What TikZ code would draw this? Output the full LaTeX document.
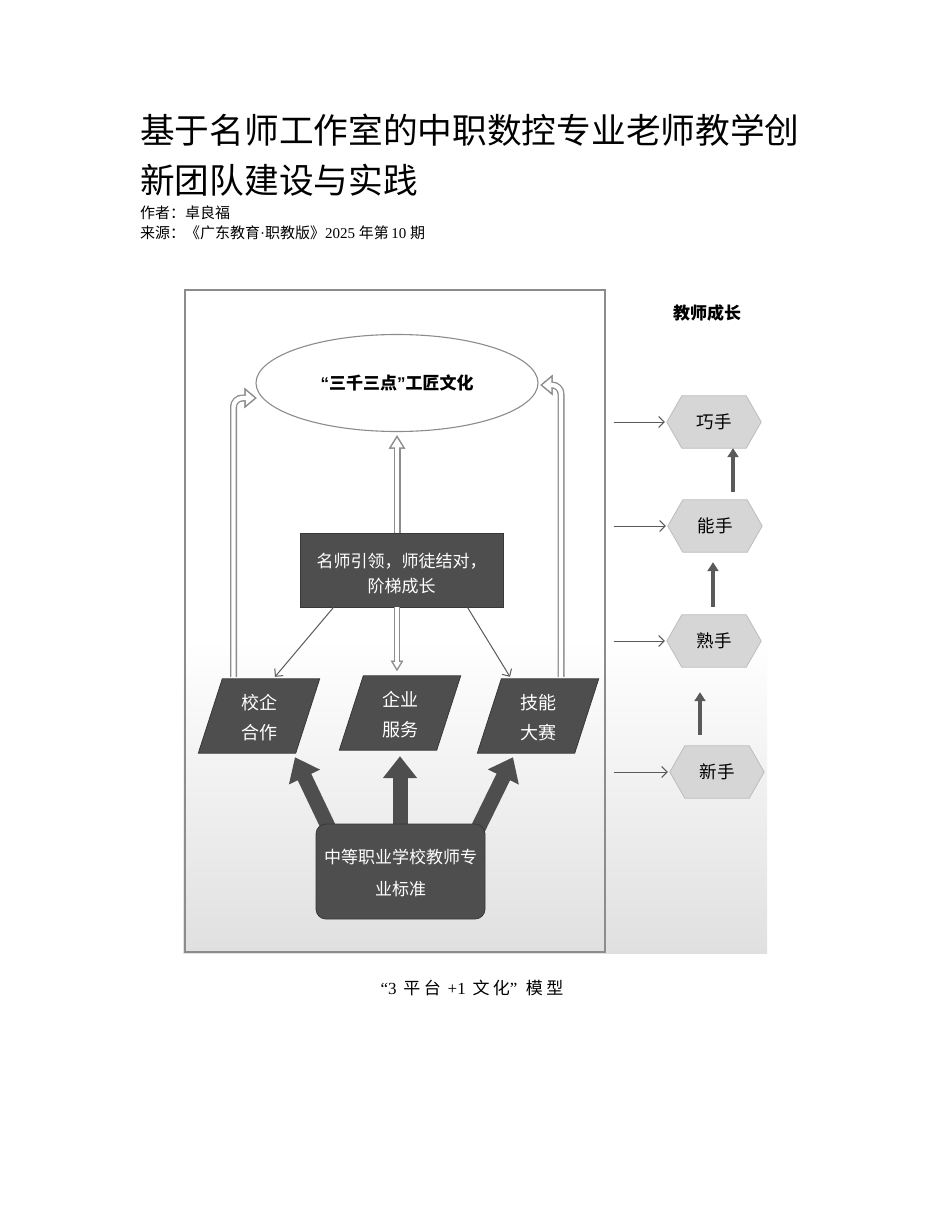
\documentclass[tikz,border=0pt]{standalone}
\usepackage{fontspec}
\setmainfont{Liberation Serif}
\newfontfamily\cjk{Noto Sans CJK SC}
\newfontfamily\latsans{Liberation Sans}
\usetikzlibrary{arrows.meta,backgrounds,calc,shapes.geometric}
\pgfdeclarelayer{mid}
\pgfsetlayers{background,mid,main}
\definecolor{dk}{HTML}{4E4E4E}
\definecolor{dkline}{HTML}{383838}
\definecolor{frm}{HTML}{8C8C8C}
\definecolor{hexf}{HTML}{D6D6D6}
\definecolor{hexd}{HTML}{BDBDBD}
\definecolor{arr}{HTML}{5A5A5A}
\definecolor{bgb}{HTML}{E0E0E0}
\newcommand\lowertext[2]{\raisebox{-#1}[\height][\depth]{\begin{tabular}{@{}c@{}}#2\end{tabular}}}
\begin{document}
\begin{tikzpicture}[x=1pt,y=-1pt,
  darkbox/.style={fill=dk, draw=dkline, line width=0.8pt, text=white, align=center, inner sep=0pt},
  ptext/.style={minimum width=97pt, minimum height=74pt, inner sep=0pt, text=white, align=center, font=\cjk\fontsize{18}{30}\selectfont},
  hexn/.style={minimum width=64pt, minimum height=52pt, inner sep=0pt, font=\cjk\fontsize{17.5}{20}\selectfont},
  hol/.style={draw=frm, fill=frm},
  thinarr/.style={draw=arr, line width=1pt, -{Straight Barb[length=5.5pt,width=11pt]}},
  thickarr/.style={draw=dk, line width=15pt, -{Triangle[length=22pt,width=33pt]}},
  uparr/.style={draw=arr, line width=4.5pt, -{Triangle[length=9pt,width=11pt]}}]
\useasboundingbox (0,0) rectangle (950,1230);
\begin{pgfonlayer}{background}
  \fill[white] (0,0) rectangle (950,1230);
  \shade[top color=white, bottom color=bgb] (183,640) rectangle (767,953);
\end{pgfonlayer}

% heading texts
\node[anchor=base west, inner sep=0pt, font=\cjk\fontsize{34.7}{40}\selectfont] (t1) at (140,144) {基于名师工作室的中职数控专业老师教学创};
\node[anchor=base west, inner sep=0pt, font=\cjk\fontsize{34.7}{40}\selectfont] (t2) at (140,194) {新团队建设与实践};
\node[anchor=base west, inner sep=0pt, font=\cjk\fontsize{15}{18}\selectfont] (au) at (140,218.5) {作者：卓良福};
\node[anchor=base west, inner sep=0pt, font=\fontsize{15}{18}\selectfont] (src) at (140,238.5) {{\cjk 来源：《广东教育}·{\cjk 职教版》}2025 {\cjk 年第}\,10 {\cjk 期}};

% frame
\node[draw=frm, line width=1.3pt, minimum width=420pt, minimum height=662pt, inner sep=0pt] (frame) at (395,621) {};

% nodes
\node[ellipse, draw=frm, fill=white, line width=1.1pt, minimum width=282pt, minimum height=97pt, inner sep=0pt, font=\cjk\bfseries\fontsize{17}{20}\selectfont] (ell) at (397,383) {{\latsans\bfseries “}三千三点{\latsans\bfseries ”}工匠文化};
\node[darkbox, minimum width=203pt, minimum height=74pt, font=\cjk\fontsize{17}{25}\selectfont] (mbox) at (401.5,570) {\lowertext{5pt}{名师引领，师徒结对，\\阶梯成长}};
\node[ptext] (p1) at (259,716) {\lowertext{2.5pt}{校企\\合作}};
\node[ptext] (p2) at (400,713) {\lowertext{2pt}{企业\\服务}};
\node[ptext] (p3) at (538,716) {\lowertext{2.5pt}{技能\\大赛}};
\node[darkbox, rounded corners=10pt, minimum width=169pt, minimum height=95pt, font=\cjk\fontsize{17}{32}\selectfont] (sbox) at (400.5,871.5) {\lowertext{1.5pt}{中等职业学校教师专\\业标准}};

\node[font=\cjk\bfseries\fontsize{17}{20}\selectfont] (head) at (707,313) {教师成长};
\node[hexn] (h1) at (714,422) {巧手};
\node[hexn] (h2) at (715,526) {能手};
\node[hexn] (h3) at (714,641) {熟手};
\node[hexn] (h4) at (717,772) {新手};

\node[font=\fontsize{17}{20}\selectfont] (cap) at (472,988) {“3\hspace{.4em}{\cjk 平}\hspace{.2em}{\cjk 台}\hspace{.4em}+1\hspace{.4em}{\cjk 文}\hspace{.2em}{\cjk 化}”\hspace{.5em}{\cjk 模}\hspace{.2em}{\cjk 型}};

% shapes behind texts
\begin{pgfonlayer}{background}
  \foreach \p in {p1,p2,p3}
    \filldraw[fill=dk, draw=dkline, line width=0.8pt] ([xshift=12pt]\p.north west) -- ([xshift=12pt]\p.north east) -- ([xshift=-12pt]\p.south east) -- ([xshift=-12pt]\p.south west) -- cycle;
  \foreach \h in {h1,h2,h3,h4}
    \filldraw[fill=hexf, draw=hexd, line width=0.8pt] ([xshift=-15pt]\h.west) -- (\h.north west) -- (\h.north east) -- ([xshift=15pt]\h.east) -- (\h.south east) -- (\h.south west) -- cycle;
\end{pgfonlayer}

% thick arrows from the standard box
\begin{pgfonlayer}{mid}
  \draw[thickarr] ($(sbox.north)+(-70,8)$) -- ($(p1.south)+(36,4)$);
  \draw[thickarr] ($(sbox.north)+(-0.5,8)$) -- ($(p2.south)+(0,6)$);
  \draw[thickarr] ($(sbox.north)+(76,8)$) -- ($(p3.south)+(-25,4)$);
\end{pgfonlayer}

% thin arrows from mbox
\draw[thinarr] ($(mbox.south)+(-68,0)$) -- ($(p1.north)+(16,-2)$);
\draw[thinarr] ($(mbox.south)+(66,0)$) -- ($(p3.north)+(-28,-2)$);

% hollow arrows
\coordinate (la) at ($(p1.north)+(-25.5,-2)$);
\coordinate (laT) at ($(ell.west)+(1,15)$);
\coordinate (ra) at ($(p3.north)+(23,-2)$);
\coordinate (raT) at ($(ell.east)+(2,2)$);
\coordinate (cu0) at ($(mbox.north)+(-4.5,0)$);
\coordinate (cuT) at ($(ell.south)+(0,3.5)$);
\coordinate (cd0) at ($(mbox.south)+(-4.5,0)$);
\coordinate (cdT) at ($(cd0 |- p2.north)+(0,-5)$);
% left
\draw[draw=frm, line width=7pt, rounded corners=9pt] (la) |- ($(laT)+(-11.5,0)$);
\fill[hol] (laT) -- ++(-12,-10) -- ++(0,20) -- cycle;
\draw[white, line width=4.4pt, rounded corners=9pt] (la) |- ($(laT)+(-10,0)$);
\fill[white] ($(laT)+(-2,0)$) -- ++(-8.7,-7.2) -- ++(0,14.4) -- cycle;
% right
\draw[draw=frm, line width=7pt, rounded corners=9pt] (ra) |- ($(raT)+(11.5,0)$);
\fill[hol] (raT) -- ++(12,-10) -- ++(0,20) -- cycle;
\draw[white, line width=4.4pt, rounded corners=9pt] (ra) |- ($(raT)+(10,0)$);
\fill[white] ($(raT)+(2,0)$) -- ++(8.7,-7.2) -- ++(0,14.4) -- cycle;
% centre up
\draw[draw=frm, line width=7pt] (cu0) -- ($(cuT)+(0,12.5)$);
\fill[hol] (cuT) -- ++(-8,13) -- ++(16,0) -- cycle;
\draw[white, line width=4.4pt] (cu0) -- ($(cuT)+(0,11)$);
\fill[white] ($(cuT)+(0,2.5)$) -- ++(-5.7,9.2) -- ++(11.4,0) -- cycle;
% centre down
\draw[draw=frm, line width=6pt] (cd0) -- ($(cdT)+(0,-9.5)$);
\fill[hol] (cdT) -- ++(-6,-10) -- ++(12,0) -- cycle;
\draw[white, line width=3.6pt] (cd0) -- ($(cdT)+(0,-8)$);
\fill[white] ($(cdT)+(0,-2.3)$) -- ++(-3.9,-6.5) -- ++(7.8,0) -- cycle;

% right panel arrows
\draw[uparr] ($(h2.north)+(18,-8)$) -- ($(h1.south)+(19,0)$);
\draw[uparr] ($(h3.north)+(-1,-8)$) -- ($(h2.south)+(-2,10)$);
\draw[uparr] ($(h4.north)+(-17,-11)$) -- ($(h3.south)+(-14,25)$);
\foreach \h in {h1,h2,h3,h4}
  \draw[thinarr] ($(frame.east |- \h)+(8,0)$) -- ($(\h.west)+(-17,0)$);
\end{tikzpicture}
\end{document}
